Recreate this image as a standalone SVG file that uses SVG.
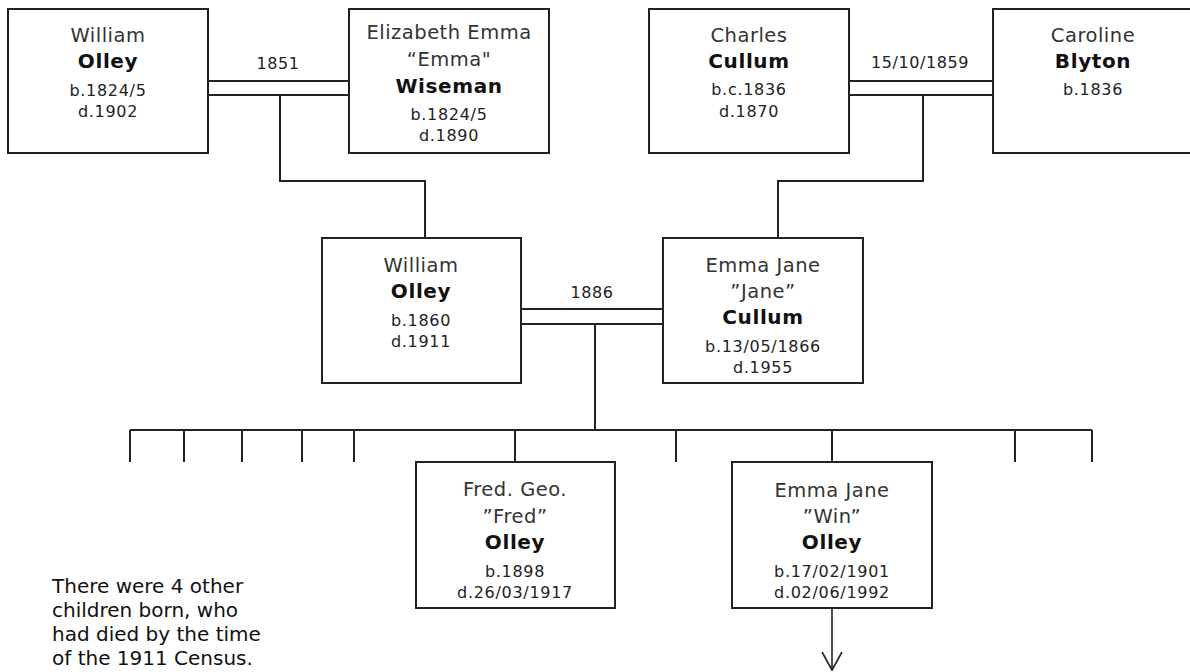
<svg xmlns="http://www.w3.org/2000/svg" width="1190" height="672" viewBox="0 0 1190 672">
<defs>
<style>
.box{fill:#fff;stroke:#222;stroke-width:2}
.ln{fill:none;stroke:#222;stroke-width:2}
text{font-family:"DejaVu Sans","Verdana","Liberation Sans",sans-serif;text-anchor:middle}
.nm{font-size:19.5px;fill:#333;letter-spacing:0.5px}
.sn{font-size:20px;font-weight:bold;fill:#111;letter-spacing:0.6px}
.dt{font-size:16px;fill:#222;letter-spacing:0.7px}
.lb{font-size:16px;fill:#222;letter-spacing:0.6px}
.note{font-size:20px;fill:#111;text-anchor:start}
</style>
<marker id="vee" markerWidth="22" markerHeight="24" refX="19" refY="11" orient="auto" markerUnits="userSpaceOnUse" viewBox="0 0 22 24">
<polyline points="1,1 19,11 1,21" fill="none" stroke="#222" stroke-width="1.6"/>
</marker>
</defs>
<rect width="1190" height="672" fill="#fff"/>

<g id="connectors">
<path class="ln" d="M208 81H349M208 95H349"/>
<path class="ln" d="M280 95V181H425V238"/>
<path class="ln" d="M849 81H993M849 95H993"/>
<path class="ln" d="M923 95V181H778V238"/>
<path class="ln" d="M521 309H663M521 324H663"/>
<path class="ln" d="M595 324V430"/>
<path class="ln" d="M130 430H1092"/>
<path class="ln" d="M130 430V462M184 430V462M242 430V462M302 430V462M354 430V462M515 430V462M676 430V462M832 430V462M1015 430V462M1092 430V462"/>
<path d="M832 608V670" fill="none" stroke="#222" stroke-width="1.6" marker-end="url(#vee)"/>
<text class="lb" x="278" y="69">1851</text>
<text class="lb" x="920" y="68">15/10/1859</text>
<text class="lb" x="592" y="298">1886</text>
</g>

<g id="william-olley-1824">
<rect class="box" x="8" y="9" width="200" height="144"/>
<text class="nm" x="108" y="42">William</text>
<text class="sn" x="108" y="68">Olley</text>
<text class="dt" x="108" y="96">b.1824/5</text>
<text class="dt" x="108" y="117">d.1902</text>
</g>

<g id="elizabeth-wiseman">
<rect class="box" x="349" y="9" width="200" height="144"/>
<text class="nm" x="449" y="39">Elizabeth Emma</text>
<text class="nm" x="449" y="66">“Emma"</text>
<text class="sn" x="449" y="93">Wiseman</text>
<text class="dt" x="449" y="120">b.1824/5</text>
<text class="dt" x="449" y="141">d.1890</text>
</g>

<g id="charles-cullum">
<rect class="box" x="649" y="9" width="200" height="144"/>
<text class="nm" x="749" y="42">Charles</text>
<text class="sn" x="749" y="68">Cullum</text>
<text class="dt" x="749" y="95">b.c.1836</text>
<text class="dt" x="749" y="117">d.1870</text>
</g>

<g id="caroline-blyton">
<rect class="box" x="993" y="9" width="200" height="144"/>
<text class="nm" x="1093" y="42">Caroline</text>
<text class="sn" x="1093" y="68">Blyton</text>
<text class="dt" x="1093" y="95">b.1836</text>
</g>

<g id="william-olley-1860">
<rect class="box" x="322" y="238" width="199" height="145"/>
<text class="nm" x="421" y="272">William</text>
<text class="sn" x="421" y="298">Olley</text>
<text class="dt" x="421" y="326">b.1860</text>
<text class="dt" x="421" y="347">d.1911</text>
</g>

<g id="emma-jane-cullum">
<rect class="box" x="663" y="238" width="200" height="145"/>
<text class="nm" x="763" y="272">Emma Jane</text>
<text class="nm" x="763" y="298">”Jane”</text>
<text class="sn" x="763" y="324">Cullum</text>
<text class="dt" x="763" y="352">b.13/05/1866</text>
<text class="dt" x="763" y="373">d.1955</text>
</g>

<g id="fred-olley">
<rect class="box" x="416" y="462" width="199" height="146"/>
<text class="nm" x="515" y="496">Fred. Geo.</text>
<text class="nm" x="515" y="523">”Fred”</text>
<text class="sn" x="515" y="549">Olley</text>
<text class="dt" x="515" y="577">b.1898</text>
<text class="dt" x="515" y="598">d.26/03/1917</text>
</g>

<g id="emma-jane-olley">
<rect class="box" x="732" y="462" width="200" height="146"/>
<text class="nm" x="832" y="497">Emma Jane</text>
<text class="nm" x="832" y="523">”Win”</text>
<text class="sn" x="832" y="549">Olley</text>
<text class="dt" x="832" y="577">b.17/02/1901</text>
<text class="dt" x="832" y="598">d.02/06/1992</text>
</g>

<g id="note">
<text class="note" x="52" y="593">There were 4 other</text>
<text class="note" x="52" y="617">children born, who</text>
<text class="note" x="52" y="641">had died by the time</text>
<text class="note" x="52" y="665">of the 1911 Census.</text>
</g>
</svg>
